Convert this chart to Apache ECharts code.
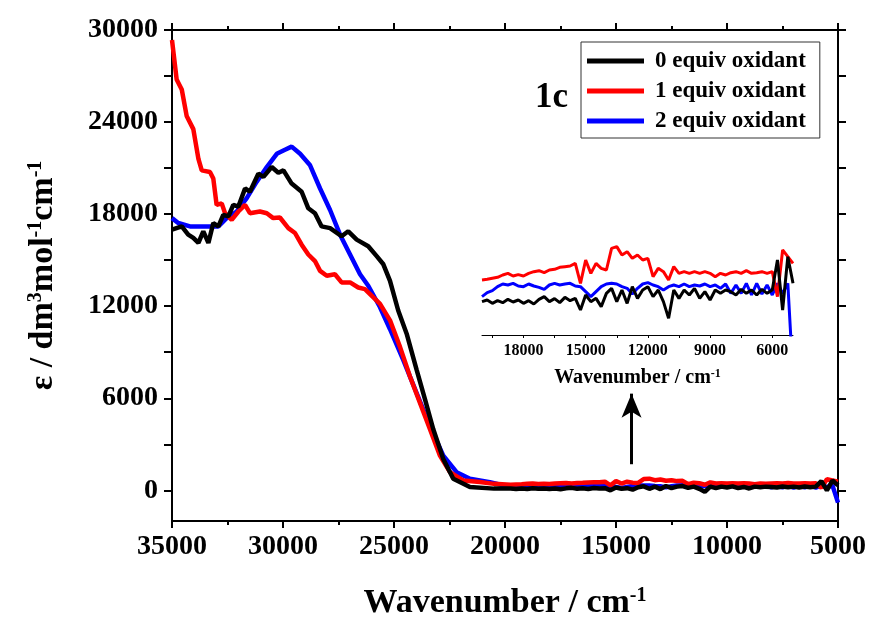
<!DOCTYPE html>
<html>
<head>
<meta charset="utf-8">
<script src="https://cdn.jsdelivr.net/npm/echarts@6/dist/echarts.min.js"></script>
<style>
  html, body { margin: 0; padding: 0; background: #fff; }
  #chart { width: 869px; height: 625px; }
</style>
</head>
<body>
<div id="chart"></div>
<script>
const FONT = '"Liberation Serif", "Times New Roman", serif';

// high-energy part of each spectrum (cm-1 / epsilon)
const wnRed = [35000, 34790, 34560, 34340, 34040, 33810, 33660, 33290, 33140, 32990, 32760, 32610, 32310, 32010, 31710, 31490, 31040, 30730, 30440, 30140, 29760, 29460, 29160, 28860, 28560, 28330, 28030, 27660, 27360, 26980, 26610, 26310, 25930, 25630, 25180, 24730, 24280, 23830, 23380, 22930, 22480, 21880, 21130, 20500];
const epsRed = [29350, 26770, 26120, 24400, 23540, 21600, 20850, 20750, 20320, 18600, 18700, 18060, 17630, 18170, 18600, 18060, 18170, 18060, 17740, 17780, 17090, 16770, 16010, 15370, 14940, 14300, 13980, 14080, 13550, 13550, 13220, 13110, 12580, 12150, 11080, 9350, 7420, 5700, 3980, 2260, 1180, 645, 535, 420];

const wnBlack = [35000, 34560, 34270, 34040, 33810, 33590, 33360, 33140, 32910, 32690, 32460, 32240, 32010, 31710, 31490, 31110, 30880, 30510, 30210, 29980, 29610, 29160, 28860, 28560, 28260, 27880, 27360, 27060, 26680, 26160, 25780, 25480, 25180, 24810, 24430, 23980, 23600, 23230, 22780, 22330, 21580, 20500];
const epsBlack = [16990, 17200, 16660, 16450, 16120, 16880, 16120, 17420, 17200, 17950, 17850, 18600, 18490, 19670, 19460, 20640, 20430, 21070, 20700, 20850, 19990, 19460, 18380, 18060, 17200, 17090, 16560, 16880, 16340, 15910, 15260, 14730, 13650, 11720, 10210, 7850, 5910, 3980, 2040, 750, 210, 110];

const wnBlue = [35000, 34720, 34190, 33290, 32910, 32540, 32090, 31640, 31190, 30730, 30280, 29910, 29610, 29230, 28780, 28330, 27880, 27430, 26980, 26530, 26160, 25630, 25180, 24580, 23980, 23380, 22780, 22180, 21580, 20680, 20300];
const epsBlue = [17740, 17420, 17200, 17200, 17200, 17740, 18170, 19030, 20100, 21070, 21930, 22190, 22400, 21930, 21180, 19670, 18270, 16660, 15370, 14080, 13330, 11930, 10500, 8490, 6340, 4190, 2260, 1180, 750, 535, 400];

// flat low-energy part, shared wavenumbers (also shown in the inset)
const wnFlat = [
  20000, 19750, 19500, 19250, 19000, 18750, 18500, 18250, 18000, 17750,
  17500, 17250, 17000, 16750, 16500, 16250, 16000, 15750, 15500, 15250,
  15000, 14750, 14500, 14250, 14000, 13750, 13500, 13250, 13000, 12750,
  12500, 12250, 12000, 11750, 11500, 11250, 11000, 10750, 10500, 10250,
  10000, 9750, 9500, 9250, 9000, 8750, 8500, 8250, 8000, 7750,
  7500, 7250, 7000, 6750, 6500, 6250, 6000, 5750, 5500, 5250,
  5000
];
const flatRed = [
  360, 368, 380, 392, 420, 440, 408, 424, 408, 440,
  460, 472, 448, 480, 488, 512, 520, 528, 560, 320,
  600, 440, 560, 500, 480, 740, 760, 660, 700, 620,
  660, 600, 620, 400, 500, 460, 360, 520, 440, 460,
  440, 460, 440, 460, 440, 400, 440, 420, 448, 460,
  440, 472, 440, 448, 460, 440, 460, 160, 720, 640,
  560
];
const flatBlue = [
  160, 208, 232, 280, 312, 300, 320, 288, 280, 312,
  288, 272, 248, 300, 320, 300, 312, 320, 288, 280,
  220, 160, 220, 280, 312, 320, 312, 280, 260, 192,
  260, 312, 328, 300, 280, 240, 280, 300, 280, 312,
  280, 300, 288, 312, 280, 300, 260, 312, 200, 300,
  200, 320, 180, 320, 192, 300, 180, 320, 200, 320,
  -800
];
const flatBlack = [
  100, 120, 80, 112, 88, 128, 96, 120, 80, 112,
  72, 128, 160, 100, 136, 88, 152, 112, 140, 0,
  180, 100, 140, 40, 200, 260, 100, 240, 80, 280,
  140, 240, 280, 160, 240, 100, -100, 240, 140, 240,
  180, 260, 140, 220, 120, 240, 200, 240, 220, 180,
  248, 200, 240, 180, 248, 200, 240, 600, 0, 640,
  320
];

const names = ['0 equiv oxidant', '1 equiv oxidant', '2 equiv oxidant'];
const yLabels = [0, 6000, 12000, 18000, 24000, 30000];
const yTicks = [0, 3000, 6000, 9000, 12000, 15000, 18000, 21000, 24000, 27000, 30000];
const insetLabels = [6000, 9000, 12000, 15000, 18000];
const insetTicks = [6000, 7500, 9000, 10500, 12000, 13500, 15000, 16500, 18000, 19500];

const zip = (xs, ys) => xs.map((x, i) => [x, ys[i]]);
const plain = v => String(v);

const chart = echarts.init(document.getElementById('chart'));

const axisLine = { show: true, onZero: false, lineStyle: { color: '#000', width: 2 } };
const sup = { fontSize: 20, fontWeight: 'bold', fontFamily: FONT, verticalAlign: 'top', lineHeight: 20 };

const mainLine = (name, color, xs, ys, flat) => ({
  name: name,
  type: 'line',
  xAxisIndex: 0,
  yAxisIndex: 0,
  showSymbol: false,
  symbol: 'none',
  lineStyle: { color: color, width: 4.5 },
  itemStyle: { color: color },
  data: zip(xs, ys).concat(zip(wnFlat.slice(1), flat.slice(1)))
});

const insetLine = (name, color, flat) => ({
  name: name,
  type: 'line',
  xAxisIndex: 2,
  yAxisIndex: 2,
  showSymbol: false,
  symbol: 'none',
  lineStyle: { color: color, width: 3 },
  itemStyle: { color: color },
  data: zip(wnFlat, flat)
});

const black = mainLine(names[0], '#000000', wnBlack, epsBlack, flatBlack);
black.markLine = {
  silent: true,
  symbol: ['none', 'arrow'],
  symbolSize: [15, 24],
  label: { show: false },
  lineStyle: { color: '#000', width: 3, type: 'solid' },
  data: [[{ coord: [14300, 1700] }, { coord: [14300, 6300] }]]
};

const option = {
  animation: false,
  backgroundColor: '#fff',
  textStyle: { fontFamily: FONT },
  grid: [
    { left: 172, right: 31, top: 30, bottom: 100 },
    { left: 482, right: 76, top: 235, bottom: 290 }
  ],
  legend: {
    data: names,
    orient: 'vertical',
    left: 581,
    top: 42,
    backgroundColor: '#fff',
    borderColor: '#333',
    borderWidth: 1,
    padding: [7, 14, 5, 6],
    itemGap: 6,
    icon: 'rect',
    itemWidth: 57,
    itemHeight: 5,
    textStyle: { fontFamily: FONT, fontWeight: 'bold', fontSize: 23, color: '#000', lineHeight: 24, padding: [0, 0, 0, 6] }
  },
  graphic: [{
    type: 'text',
    left: 535,
    top: 80,
    style: { text: '1c', font: 'bold 35px "Liberation Serif", serif', fill: '#000' }
  }],
  xAxis: [{
    type: 'value',
    gridIndex: 0,
    min: 5000,
    max: 35000,
    interval: 5000,
    inverse: true,
    position: 'bottom',
    splitLine: { show: false },
    axisLine: axisLine,
    axisTick: { show: true, inside: false, length: 7, lineStyle: { color: '#000', width: 2 } },
    minorTick: { show: true, splitNumber: 2, length: 4, lineStyle: { color: '#000', width: 2 } },
    axisLabel: { color: '#000', fontSize: 28, fontWeight: 'bold', fontFamily: FONT, margin: 12, formatter: plain },
    name: 'Wavenumber / cm{sup|-1}',
    nameLocation: 'middle',
    nameGap: 65,
    nameTextStyle: { color: '#000', fontSize: 34, fontWeight: 'bold', fontFamily: FONT, rich: { sup: sup } }
  }, {
    type: 'value',
    gridIndex: 0,
    min: 5000,
    max: 35000,
    interval: 5000,
    inverse: true,
    position: 'top',
    splitLine: { show: false },
    axisLine: axisLine,
    axisTick: { show: true, inside: false, length: 7, lineStyle: { color: '#000', width: 2 } },
    minorTick: { show: true, splitNumber: 2, length: 4, lineStyle: { color: '#000', width: 2 } },
    axisLabel: { show: false }
  }, {
    type: 'value',
    gridIndex: 1,
    min: 5000,
    max: 20000,
    inverse: true,
    position: 'bottom',
    splitLine: { show: false },
    axisLine: { show: true, onZero: false, lineStyle: { color: '#000', width: 1 } },
    axisTick: { show: true, inside: false, length: 3, customValues: insetTicks, lineStyle: { color: '#000', width: 1 } },
    axisLabel: { color: '#000', fontSize: 16, fontWeight: 'bold', fontFamily: FONT, margin: 8, customValues: insetLabels, formatter: plain },
    name: 'Wavenumber / cm{sup|-1}',
    nameLocation: 'middle',
    nameGap: 33,
    nameTextStyle: { color: '#000', fontSize: 20, fontWeight: 'bold', fontFamily: FONT,
      rich: { sup: { fontSize: 12, fontWeight: 'bold', fontFamily: FONT, verticalAlign: 'top', lineHeight: 12 } } }
  }],
  yAxis: [{
    type: 'value',
    gridIndex: 0,
    min: -2000,
    max: 30000,
    position: 'left',
    splitLine: { show: false },
    axisLine: axisLine,
    axisTick: { show: true, inside: false, length: 8, customValues: yTicks, lineStyle: { color: '#000', width: 2 } },
    axisLabel: { color: '#000', fontSize: 28, fontWeight: 'bold', fontFamily: FONT, margin: 14, customValues: yLabels, formatter: plain },
    name: 'ε / dm{sup|3}mol{sup|-1}cm{sup|-1}',
    nameLocation: 'middle',
    nameRotate: 90,
    nameGap: 112,
    nameTextStyle: { color: '#000', fontSize: 34, fontWeight: 'bold', fontFamily: FONT, rich: { sup: sup } }
  }, {
    type: 'value',
    gridIndex: 0,
    min: -2000,
    max: 30000,
    position: 'right',
    splitLine: { show: false },
    axisLine: axisLine,
    axisTick: { show: true, inside: false, length: 8, customValues: yTicks, lineStyle: { color: '#000', width: 2 } },
    axisLabel: { show: false }
  }, {
    type: 'value',
    gridIndex: 1,
    min: -300,
    max: 900,
    show: false
  }],
  series: [
    mainLine(names[2], '#0000ff', wnBlue, epsBlue, flatBlue),
    mainLine(names[1], '#ff0000', wnRed, epsRed, flatRed),
    black,
    insetLine(names[2], '#0000ff', flatBlue),
    insetLine(names[1], '#ff0000', flatRed),
    insetLine(names[0], '#000000', flatBlack)
  ]
};

chart.setOption(option);
</script>
</body>
</html>
